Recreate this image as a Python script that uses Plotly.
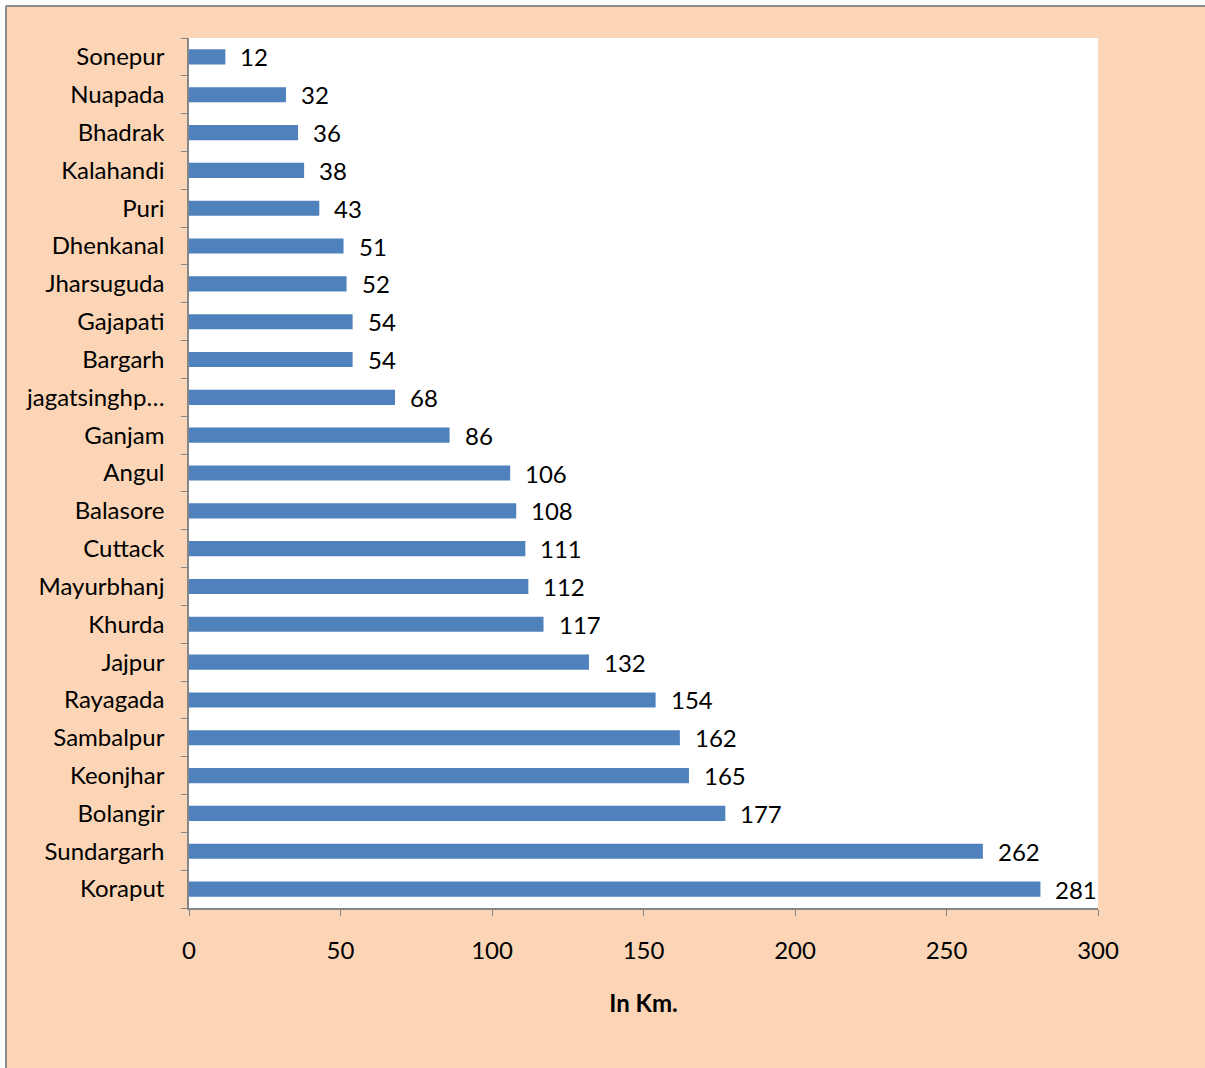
import plotly.graph_objects as go

# Length (in km) per district, top to bottom as listed on the axis
districts = [
    "Sonepur", "Nuapada", "Bhadrak", "Kalahandi", "Puri", "Dhenkanal",
    "Jharsuguda", "Gajapati", "Bargarh", "jagatsinghp…", "Ganjam", "Angul",
    "Balasore", "Cuttack", "Mayurbhanj", "Khurda", "Jajpur", "Rayagada",
    "Sambalpur", "Keonjhar", "Bolangir", "Sundargarh", "Koraput",
]
length_km = [
    12, 32, 36, 38, 43, 51,
    52, 54, 54, 68, 86, 106,
    108, 111, 112, 117, 132, 154,
    162, 165, 177, 262, 281,
]
x_ticks = [0, 50, 100, 150, 200, 250, 300]

W, H = 1205, 1068
L, R, T, B = 189, 107, 38, 160
plot_w = W - L - R
plot_h = H - T - B


def px_x(p):
    return (p - L) / plot_w


def px_y(p):
    return (H - B - p) / plot_h


FONT = "Lato"
AXIS_GREY = "#868686"
PEACH = "#FBD5B5"

fig = go.Figure()
fig.add_trace(go.Bar(
    x=length_km,
    y=districts,
    orientation="h",
    marker=dict(color="#4F81BD", line=dict(width=0)),
    hoverinfo="x+y",
))

# Value labels just past the end of each bar
for name, val in zip(districts, length_km):
    fig.add_annotation(
        x=val, y=name, xref="x", yref="y",
        text=str(val), showarrow=False,
        xanchor="left", yanchor="middle", xshift=13,
        font=dict(family=FONT, size=24, color="black"),
    )

# Outer frame: white margin strips and a grey border line
fig.add_shape(type="rect", xref="paper", yref="paper", layer="above",
              x0=px_x(-20), x1=px_x(5), y0=px_y(H + 20), y1=px_y(-20),
              fillcolor="white", line=dict(width=0))
fig.add_shape(type="rect", xref="paper", yref="paper", layer="above",
              x0=px_x(-20), x1=px_x(W + 20), y0=px_y(5), y1=px_y(-20),
              fillcolor="white", line=dict(width=0))
fig.add_shape(type="line", xref="paper", yref="paper", layer="above",
              x0=px_x(6), x1=px_x(6), y0=px_y(6), y1=px_y(H + 20),
              line=dict(color="#8C8C8C", width=2))
fig.add_shape(type="line", xref="paper", yref="paper", layer="above",
              x0=px_x(6), x1=px_x(W + 20), y0=px_y(6), y1=px_y(6),
              line=dict(color="#8C8C8C", width=2))

fig.update_layout(
    width=W, height=H,
    margin=dict(l=L, r=R, t=T, b=B, pad=0),
    paper_bgcolor=PEACH,
    plot_bgcolor="white",
    bargap=0.6,
    showlegend=False,
    font=dict(family=FONT, size=24, color="black"),
)

fig.update_xaxes(
    range=[0, 300],
    tickvals=x_ticks,
    ticktext=[str(v) for v in x_ticks],
    ticks="outside", ticklen=6, tickwidth=1, tickcolor=AXIS_GREY,
    showline=True, linecolor=AXIS_GREY, linewidth=1.5,
    showgrid=False, zeroline=False,
    tickfont=dict(family=FONT, size=24, color="black"),
    ticklabelstandoff=14,
    title=dict(text="<b>In Km.</b>", font=dict(family=FONT, size=24, color="black"), standoff=33),
)
fig.update_yaxes(
    categoryorder="array",
    categoryarray=districts[::-1],
    tickson="boundaries",
    ticks="outside", ticklen=6, tickwidth=1, tickcolor=AXIS_GREY,
    showline=True, linecolor=AXIS_GREY, linewidth=1.5,
    showgrid=False, zeroline=False,
    tickfont=dict(family=FONT, size=24, color="black"),
    ticklabelstandoff=18,
)

fig.write_html("out.html")
